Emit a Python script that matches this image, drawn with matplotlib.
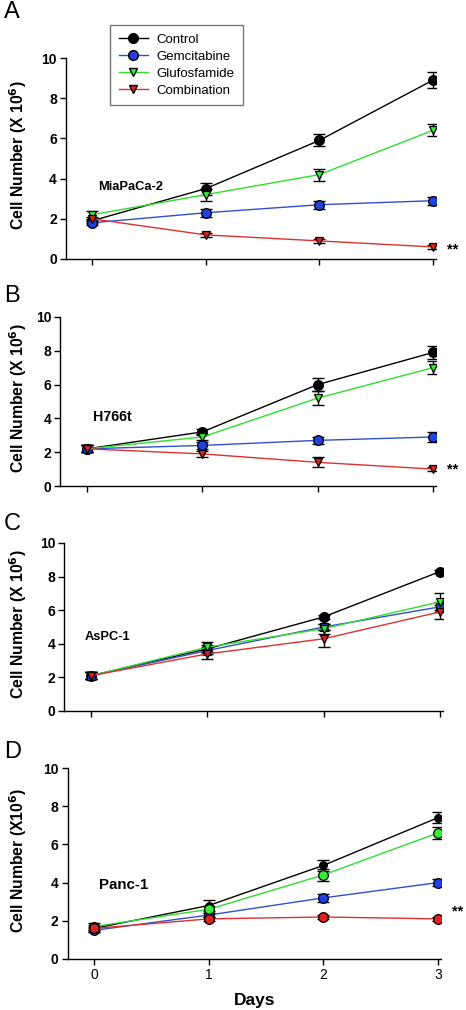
import matplotlib
matplotlib.use("Agg")
import matplotlib.pyplot as plt
from matplotlib.lines import Line2D

plt.rcParams['font.family'] = ['Liberation Sans', 'DejaVu Sans']

days = [0, 1, 2, 3]
series_names = ["Control", "Gemcitabine", "Glufosfamide", "Combination"]
line_colors = ["#000000", "#3050d0", "#30dd30", "#dd3030"]
face_colors = ["#000000", "#2040e0", "#33ee33", "#dd2222"]

# Panel A: MiaPaCa-2
a_control = [1.9, 3.5, 5.9, 8.9]
a_control_err = [0.1, 0.3, 0.3, 0.4]
a_gem = [1.8, 2.3, 2.7, 2.9]
a_gem_err = [0.1, 0.2, 0.2, 0.2]
a_gluf = [2.2, 3.2, 4.2, 6.4]
a_gluf_err = [0.2, 0.3, 0.3, 0.3]
a_comb = [2.0, 1.2, 0.9, 0.6]
a_comb_err = [0.1, 0.1, 0.1, 0.1]

# Panel B: H766t
b_control = [2.2, 3.2, 6.0, 7.9]
b_control_err = [0.2, 0.2, 0.4, 0.4]
b_gem = [2.2, 2.4, 2.7, 2.9]
b_gem_err = [0.2, 0.2, 0.2, 0.3]
b_gluf = [2.2, 2.9, 5.2, 7.0]
b_gluf_err = [0.2, 0.2, 0.4, 0.4]
b_comb = [2.2, 1.9, 1.4, 1.0]
b_comb_err = [0.2, 0.2, 0.3, 0.1]

# Panel C: AsPC-1
c_control = [2.1, 3.7, 5.6, 8.3]
c_control_err = [0.2, 0.2, 0.1, 0.1]
c_gem = [2.1, 3.6, 5.0, 6.2]
c_gem_err = [0.2, 0.2, 0.2, 0.3]
c_gluf = [2.1, 3.8, 4.9, 6.5]
c_gluf_err = [0.2, 0.3, 0.3, 0.5]
c_comb = [2.1, 3.4, 4.3, 5.9]
c_comb_err = [0.2, 0.3, 0.5, 0.4]

# Panel D: Panc-1
d_control = [1.6, 2.8, 4.9, 7.4]
d_control_err = [0.2, 0.3, 0.3, 0.3]
d_gem = [1.5, 2.3, 3.2, 4.0]
d_gem_err = [0.1, 0.1, 0.2, 0.2]
d_gluf = [1.7, 2.6, 4.4, 6.6]
d_gluf_err = [0.2, 0.2, 0.3, 0.3]
d_comb = [1.6, 2.1, 2.2, 2.1]
d_comb_err = [0.1, 0.1, 0.1, 0.1]

panel_letters = ["A", "B", "C", "D"]
cell_lines = ["MiaPaCa-2", "H766t", "AsPC-1", "Panc-1"]
yticks = [0, 2, 4, 6, 8, 10]
xticks = [0, 1, 2, 3]

W, H = 466, 1010
fig = plt.figure(figsize=(W / 100, H / 100), dpi=100)

XMIN, XMAX = -0.23, 3.03

# pixel geometry: (x0_px, x3_px, y10_px, y0_px)
geom = [(92, 433, 58, 259), (87, 433, 317, 486), (91, 440, 543, 711), (94, 438, 768, 959)]

panels = [
    ([a_control, a_gem, a_gluf, a_comb], [a_control_err, a_gem_err, a_gluf_err, a_comb_err],
     ['o', 'o', 'v', 'v'], [7, 7, 6.2, 6.2]),
    ([b_control, b_gem, b_gluf, b_comb], [b_control_err, b_gem_err, b_gluf_err, b_comb_err],
     ['o', 'o', 'v', 'v'], [7, 7, 6.2, 6.2]),
    ([c_control, c_gem, c_gluf, c_comb], [c_control_err, c_gem_err, c_gluf_err, c_comb_err],
     ['o', 's', 'v', 'v'], [7, 5.5, 6.2, 6.2]),
    ([d_control, d_gem, d_gluf, d_comb], [d_control_err, d_gem_err, d_gluf_err, d_comb_err],
     ['o', 'o', 'o', 'o'], [5.5, 7, 7, 7]),
]

ylabels = ["Cell Number (X 10$^{\\mathbf{6}}$)"] * 3 + ["Cell Number (X10$^{\\mathbf{6}}$)"]
label_pos = [(98, 187, 9.3), (93, 417, 10.3), (85, 637, 9.3), (99, 885, 10.8)]
letter_pos = [(4, 12), (4, 296), (4, 524), (4, 752)]
stars = [(3.12, 0.45), (3.12, 0.95), None, (3.12, 2.5)]

for i, (vals, errs, markers, msizes) in enumerate(panels):
    x0, x3, y10, y0 = geom[i]
    u = (x3 - x0) / 3.0
    left_px = x0 + XMIN * u
    right_px = x3 + (XMAX - 3) * u
    ax = fig.add_axes([left_px / W, 1 - y0 / H, (right_px - left_px) / W, (y0 - y10) / H])
    ax.set_xlim(XMIN, XMAX)
    ax.set_ylim(0, 10)
    ax.spines['top'].set_visible(False)
    ax.spines['right'].set_visible(False)
    ax.spines['left'].set_linewidth(1.0)
    ax.spines['bottom'].set_linewidth(1.0)
    ax.set_yticks(yticks)
    ax.set_xticks(xticks)
    ax.tick_params(direction='out', length=4, width=1, pad=2.5)
    for t in ax.get_yticklabels():
        t.set_fontweight('bold')
        t.set_fontsize(10)
    if i < 3:
        ax.set_xticklabels([])
    else:
        ax.set_xticklabels([str(v) for v in xticks], fontsize=10)
        ax.set_xlabel("Days", fontsize=12.5, fontweight='bold', labelpad=8)

    for k in range(4):
        ax.errorbar(days, vals[k], yerr=errs[k], fmt='none', ecolor='black',
                    elinewidth=1, capsize=4, capthick=1, zorder=2)
        ax.plot(days, vals[k], color=line_colors[k], lw=1.0, marker=markers[k],
                markersize=msizes[k], markerfacecolor=face_colors[k],
                markeredgecolor='black', markeredgewidth=0.9, zorder=3 + k * 0.1)

    lx, ly, ls = label_pos[i]
    fig.text(lx / W, 1 - ly / H, cell_lines[i], fontsize=ls, fontweight='bold',
             ha='left', va='center')
    if stars[i] is not None:
        ax.text(stars[i][0], stars[i][1], "**", fontsize=10.5, fontweight='bold',
                ha='left', va='center', clip_on=False)

    fig.text(18 / W, 1 - ((y10 + y0) / 2 - 3) / H, ylabels[i], rotation=90,
             fontsize=11.3, fontweight='bold', ha='center', va='center')
    lpx, lpy = letter_pos[i]
    fig.text(lpx / W, 1 - lpy / H, panel_letters[i], fontsize=17,
             ha='left', va='center')

handles = [
    Line2D([], [], color=line_colors[0], lw=1, marker='o', ms=7,
           markerfacecolor=face_colors[0], markeredgecolor='black'),
    Line2D([], [], color=line_colors[1], lw=1, marker='o', ms=7,
           markerfacecolor=face_colors[1], markeredgecolor='black'),
    Line2D([], [], color=line_colors[2], lw=1, marker='v', ms=6.2,
           markerfacecolor=face_colors[2], markeredgecolor='black'),
    Line2D([], [], color=line_colors[3], lw=1, marker='v', ms=6.2,
           markerfacecolor=face_colors[3], markeredgecolor='black'),
]
leg = fig.legend(handles, series_names, loc='upper left',
                 bbox_to_anchor=(110 / W, 1 - 25 / H), fontsize=9.5,
                 frameon=True, fancybox=False, edgecolor='#555555',
                 handlelength=2.2, handletextpad=0.7, labelspacing=0.36,
                 borderpad=0.65, borderaxespad=0)
leg.get_frame().set_linewidth(1.0)

fig.savefig("out.png", dpi=100)
